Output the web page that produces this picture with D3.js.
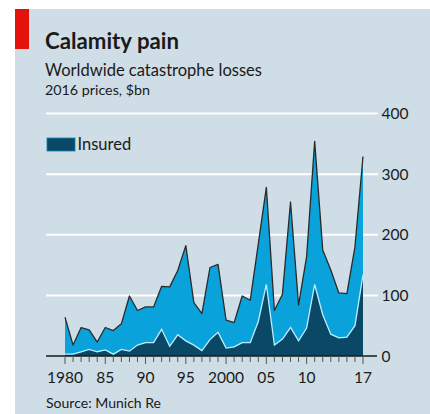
<!DOCTYPE html>
<html><head><meta charset="utf-8">
<script src="https://cdn.jsdelivr.net/npm/d3@7"></script>
<style>
html,body{margin:0;padding:0;background:#fff;}
svg{display:block;font-family:Lato,"Open Sans",sans-serif;}
</style></head>
<body><div id="chart"></div>
<script>
const years = d3.range(1980, 2018);
const totalLosses = [64,18,47,43,23,47,42,53,99,75,81,81,115,114,141,182,88,70,146,151,
  59,55,99,92,185,278,75,102,254,84,164,354,175,142,104,103,180,329];
const insuredLosses = [3,3,7,11,7,10,3,11,8,18,22,22,44,16,35,25,18,9,27,39,
  13,15,22,22,57,118,18,28,47,25,46,118,68,36,30,31,50,134];
const yTicks = [0,100,200,300,400];
const xLabelYears = [1980,1985,1990,1995,2000,2005,2010,2017];
const xLabelText = ["1980","85","90","95","2000","05","10","17"];

const W = 430, H = 414;
const svg = d3.select("#chart").append("svg").attr("width", W).attr("height", H);

svg.append("rect").attr("x",0).attr("y",0).attr("width",W).attr("height",H).attr("fill","#ffffff");
svg.append("rect").attr("x",15).attr("y",9).attr("width",W-15).attr("height",H-9).attr("fill","#cfdde6");
svg.append("rect").attr("x",15).attr("y",9).attr("width",14).attr("height",40).attr("fill","#e3120b");

const x = d3.scaleLinear().domain([1980,2017]).range([65,363]);
const y = d3.scaleLinear().domain([0,400]).range([356,113.5]);

// gridlines
svg.append("g").selectAll("line").data(yTicks.filter(d=>d>0)).join("line")
  .attr("x1",46).attr("x2",378).attr("y1",d=>y(d)).attr("y2",d=>y(d))
  .attr("stroke","#ffffff").attr("stroke-width",2);

// y tick labels
svg.append("g").selectAll("text").data(yTicks).join("text")
  .attr("x",381.5).attr("y",d=>y(d)+5.5).text(d=>d)
  .attr("font-size",15.5).attr("fill","#1a1a1a");

const data = years.map((yr,i)=>({yr, t: totalLosses[i], ins: insuredLosses[i]}));

const areaT = d3.area().x(d=>x(d.yr)).y0(y(0)).y1(d=>y(d.t));
const areaI = d3.area().x(d=>x(d.yr)).y0(y(0)).y1(d=>y(d.ins));
svg.append("path").datum(data).attr("d",areaT).attr("fill","#0aa2da");
svg.append("path").datum(data).attr("d",areaI).attr("fill","#0b4866");
svg.append("path").datum(data).attr("d",d3.line().x(d=>x(d.yr)).y(d=>y(d.ins)))
  .attr("fill","none").attr("stroke","#bdeeff").attr("stroke-width",1.3);
svg.append("path").datum(data).attr("d",d3.line().x(d=>x(d.yr)).y(d=>y(d.t)))
  .attr("fill","none").attr("stroke","#2a2a2a").attr("stroke-width",1.3).attr("stroke-linejoin","round");

// baseline
svg.append("line").attr("x1",46).attr("x2",377).attr("y1",y(0)).attr("y2",y(0))
  .attr("stroke","#1a1a1a").attr("stroke-width",1.5);

// x ticks
svg.append("g").selectAll("line").data(years).join("line")
  .attr("x1",d=>x(d)).attr("x2",d=>x(d)).attr("y1",y(0))
  .attr("y2",d=>xLabelYears.includes(d)?364:362)
  .attr("stroke","#555").attr("stroke-width",1);

svg.append("g").selectAll("text").data(xLabelYears).join("text")
  .attr("x",d=>x(d)).attr("y",383).attr("text-anchor","middle")
  .attr("font-size",15.5).attr("fill","#1a1a1a")
  .text((d,i)=>xLabelText[i]);

// legend
svg.append("rect").attr("x",47).attr("y",138).attr("width",28).attr("height",13)
  .attr("fill","#0b4866").attr("stroke","#0a85b5").attr("stroke-width",0.8);
svg.append("text").attr("x",77.5).attr("y",150).attr("font-size",16.5).attr("fill","#1a1a1a")
  .text("Insured");

// titles
svg.append("text").attr("x",45).attr("y",49).attr("font-size",23).attr("font-weight","bold")
  .attr("fill","#1a1a1a").attr("textLength",134).attr("lengthAdjust","spacingAndGlyphs")
  .text("Calamity pain");
svg.append("text").attr("x",45).attr("y",76).attr("font-size",17.5).attr("fill","#1a1a1a")
  .attr("textLength",217).attr("lengthAdjust","spacingAndGlyphs")
  .text("Worldwide catastrophe losses");
svg.append("text").attr("x",45).attr("y",95).attr("font-size",14).attr("fill","#1a1a1a")
  .attr("textLength",105).attr("lengthAdjust","spacingAndGlyphs")
  .text("2016 prices, $bn");
svg.append("text").attr("x",46).attr("y",408).attr("font-size",14).attr("fill","#1a1a1a")
  .attr("textLength",115).attr("lengthAdjust","spacingAndGlyphs")
  .text("Source: Munich Re");
</script></body></html>
